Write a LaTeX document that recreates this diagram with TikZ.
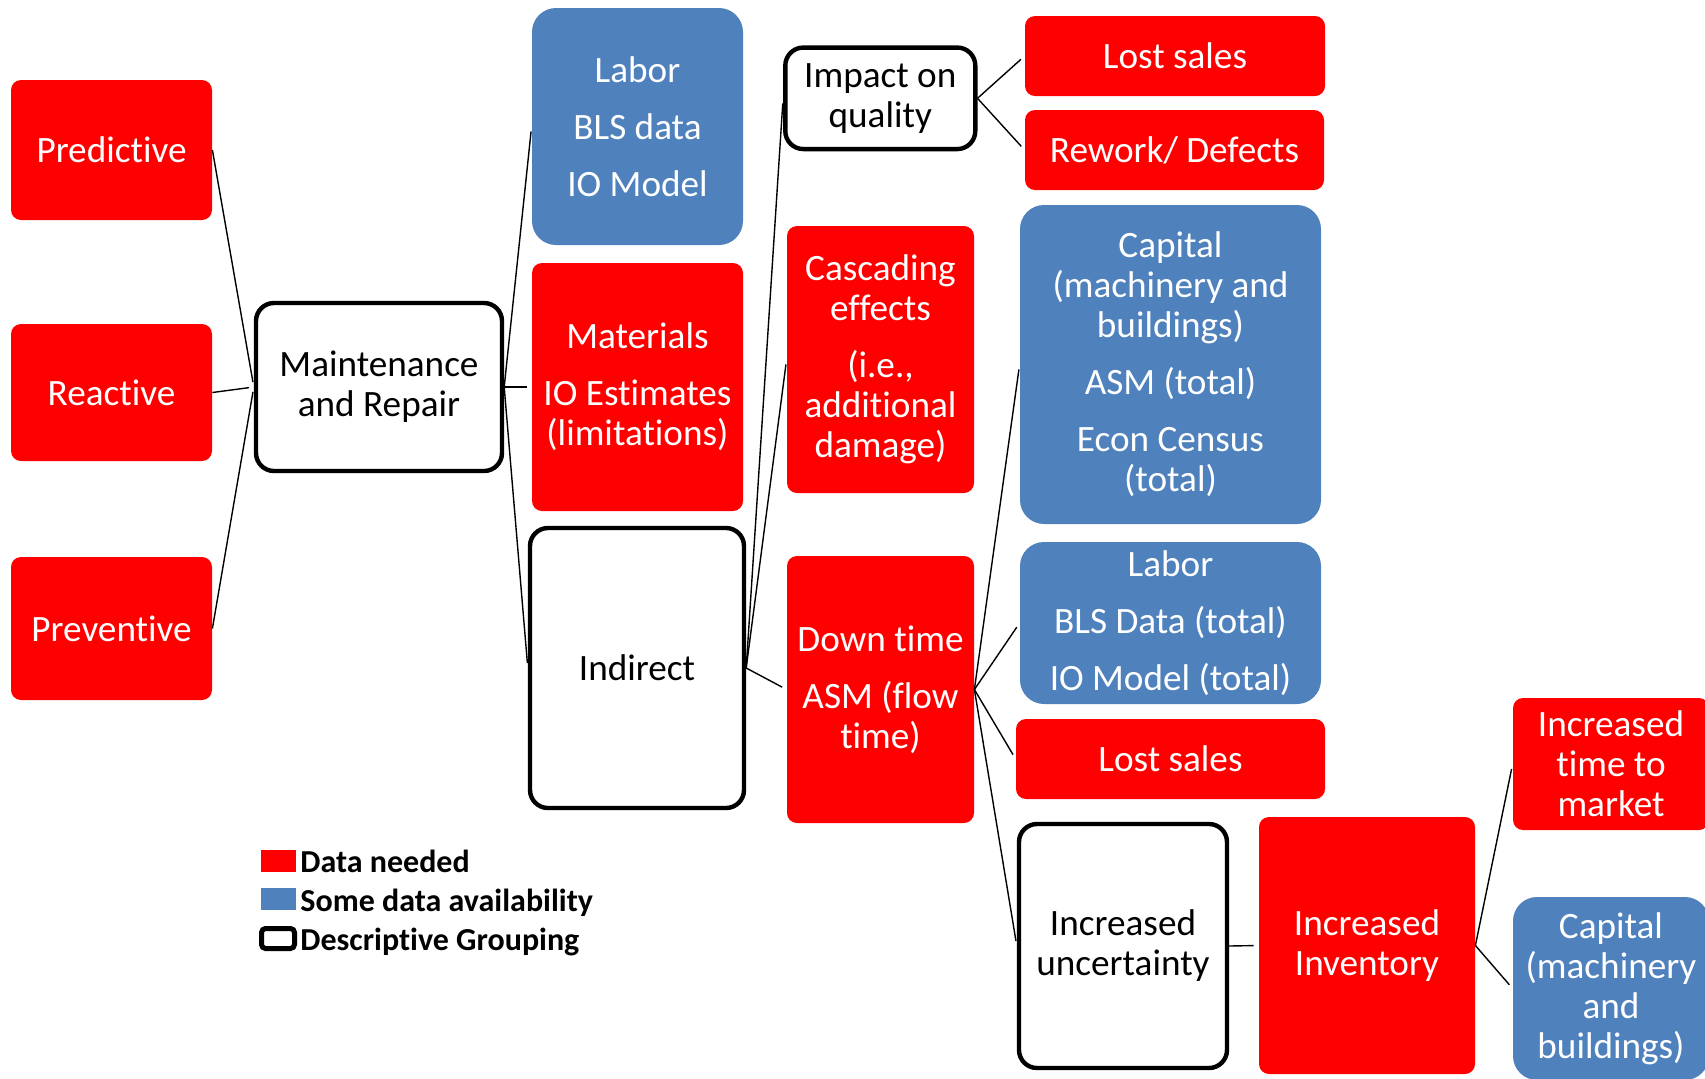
\documentclass[tikz,border=0pt]{standalone}
\usepackage{fontspec}
\setmainfont{Carlito}[Ligatures=NoCommon]
\definecolor{dred}{HTML}{FF0000}
\definecolor{dblue}{HTML}{4F81BD}
\begin{document}
\begin{tikzpicture}[x=0.5pt,y=-0.5pt,
  base/.style={rectangle, align=center, inner sep=0pt, font=\fontsize{18.6}{20}\selectfont},
  redbox/.style={base, fill=dred, text=white, rounded corners=5pt},
  bluebox/.style={base, fill=dblue, text=white, rounded corners=12pt},
  grpbox/.style={base, draw=black, line width=2.2pt, fill=white, text=black, rounded corners=9pt},
  conn/.style={line width=0.7pt, shorten >=2.5pt},
  legtext/.style={anchor=base west, inner sep=0pt, font=\fontsize{16}{18}\selectfont\bfseries}
]
\useasboundingbox (0,0) rectangle (1705,1078);

% left column
\node[redbox, minimum width=100.5pt, minimum height=70pt] (pred) at (111.5,150) {Predictive};
\node[redbox, minimum width=100.5pt, minimum height=68.5pt] (react) at (111.5,392.5) {Reactive};
\node[redbox, minimum width=100.5pt, minimum height=71.5pt] (prev) at (111.5,628.5) {Preventive};

\node[grpbox, minimum width=123pt, minimum height=84pt] (mr) at (379,387) {Maintenance\\and Repair};

% second column
\node[bluebox, minimum width=105.5pt, minimum height=118.5pt] (lab1) at (637.5,126.5) {Labor\\[8.5pt]BLS data\\[8.5pt]IO Model};
\node[redbox, minimum width=105.5pt, minimum height=124pt] (mat) at (637.5,387) {Materials\\[8.5pt]IO Estimates\\(limitations)};
\node[grpbox, minimum width=107pt, minimum height=140pt] (ind) at (637,668) {Indirect};

% third column
\node[grpbox, minimum width=95pt, minimum height=50.75pt] (imp) at (880.3,98.3) {Impact on\\quality};
\node[redbox, minimum width=93.5pt, minimum height=133.5pt] (casc) at (880.5,359.5) {Cascading\\effects\\[8.5pt](i.e.,\\additional\\damage)};
\node[redbox, minimum width=93.5pt, minimum height=133.5pt] (down) at (880.5,689.5) {Down time\\[8.5pt]ASM (flow\\time)};

% fourth column
\node[redbox, minimum width=150pt, minimum height=40pt] (lost1) at (1175,56) {Lost sales};
\node[redbox, minimum width=149.5pt, minimum height=40pt] (rew) at (1174.5,150) {Rework/ Defects};
\node[bluebox, minimum width=150.5pt, minimum height=159.5pt] (cap1) at (1170.5,364.5) {Capital\\(machinery and\\buildings)\\[8.5pt]ASM (total)\\[8.5pt]Econ Census\\(total)};
\node[bluebox, minimum width=150.5pt, minimum height=81pt] (lab2) at (1170.5,623) {Labor\\[8.5pt]BLS Data (total)\\[8.5pt]IO Model (total)};
\node[redbox, minimum width=154.5pt, minimum height=40pt] (lost2) at (1170.5,759) {Lost sales};
\node[grpbox, minimum width=104pt, minimum height=122pt] (unc) at (1123,946) {Increased\\uncertainty};

% fifth/sixth column
\node[redbox, minimum width=108pt, minimum height=128.5pt] (inv) at (1367,945.5) {Increased\\Inventory};
\node[redbox, minimum width=98pt, minimum height=66pt] (ttm) at (1611,764) {Increased\\time to\\market};
\node[bluebox, minimum width=98pt, minimum height=91.5pt] (cap2) at (1611,988.5) {Capital\\(machinery\\and\\buildings)};

% connectors
\foreach \c in {pred,react,prev} \draw[conn] (\c.east) -- (mr.west);
\foreach \c in {lab1,mat,ind} \draw[conn] (mr.east) -- (\c.west);
\foreach \c in {imp,casc,down} \draw[conn] (ind.east) -- (\c.west);
\foreach \c in {lost1,rew} \draw[conn] (imp.east) -- (\c.west);
\foreach \c in {cap1,lab2,lost2,unc} \draw[conn] (down.east) -- (\c.west);
\draw[conn] (unc.east) -- (inv.west);
\foreach \c in {ttm,cap2} \draw[conn] (inv.east) -- (\c.west);

% legend
\node[fill=dred, minimum width=17.5pt, minimum height=11pt, inner sep=0pt] (lr) at (278.5,861) {};
\node[fill=dblue, minimum width=17.5pt, minimum height=11pt, inner sep=0pt] (lb) at (278.5,899) {};
\node[draw=black, line width=2.5pt, rounded corners=2pt, minimum width=16.5pt, minimum height=10pt, inner sep=0pt] (lk) at (278,938.5) {};
\node[legtext] (tr) at (300,872) {Data needed};
\node[legtext] (tb) at (300,911) {Some data availability};
\node[legtext] (tk) at (300,950) {Descriptive Grouping};
\end{tikzpicture}
\end{document}
